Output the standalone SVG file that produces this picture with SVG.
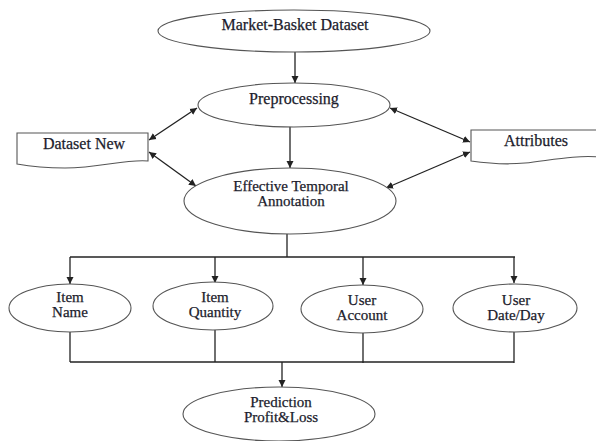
<svg xmlns="http://www.w3.org/2000/svg" width="596" height="441" viewBox="0 0 596 441">
<style>
.shape{fill:#fff;stroke:#555;stroke-width:1.1}
.line{fill:none;stroke:#222;stroke-width:1.3}
text{font-family:"Liberation Serif","Times New Roman",serif;font-size:15px;fill:#1c1c2c;stroke:#1c1c2c;stroke-width:0.25;text-anchor:middle}
.tw{font-size:16px}
</style>
<defs>
<marker id="ah" markerWidth="8" markerHeight="8" refX="7" refY="4" orient="auto-start-reverse" markerUnits="userSpaceOnUse">
<path d="M0,0.5 L7,4 L0,7.5 Z" fill="#222"/>
</marker>
</defs>
<rect width="596" height="441" fill="#fff"/>
<g id="connectors">
<line class="line" x1="295" y1="52" x2="295" y2="83" marker-end="url(#ah)"/>
<line class="line" x1="290" y1="124" x2="290" y2="168" marker-end="url(#ah)"/>
<line class="line" x1="197" y1="108" x2="149" y2="140" marker-start="url(#ah)" marker-end="url(#ah)"/>
<line class="line" x1="149" y1="152" x2="196" y2="186" marker-start="url(#ah)" marker-end="url(#ah)"/>
<line class="line" x1="390" y1="108" x2="470" y2="142" marker-start="url(#ah)" marker-end="url(#ah)"/>
<line class="line" x1="470" y1="152" x2="386" y2="188" marker-start="url(#ah)" marker-end="url(#ah)"/>
<line class="line" x1="287" y1="234" x2="287" y2="257"/>
<line class="line" x1="70" y1="257" x2="515" y2="257"/>
<line class="line" x1="70" y1="257" x2="70" y2="284" marker-end="url(#ah)"/>
<line class="line" x1="215" y1="257" x2="215" y2="283" marker-end="url(#ah)"/>
<line class="line" x1="363" y1="257" x2="363" y2="285" marker-end="url(#ah)"/>
<line class="line" x1="514" y1="257" x2="514" y2="283" marker-end="url(#ah)"/>
<line class="line" x1="70" y1="332" x2="70" y2="362"/>
<line class="line" x1="215" y1="330" x2="215" y2="362"/>
<line class="line" x1="363" y1="333" x2="363" y2="363"/>
<line class="line" x1="514" y1="332" x2="514" y2="363"/>
<line class="line" x1="70" y1="362" x2="514" y2="362"/>
<line class="line" x1="282" y1="362" x2="282" y2="387" marker-end="url(#ah)"/>
</g>
<g id="market-basket">
<ellipse class="shape" cx="294" cy="31" rx="136" ry="21"/>
<text class="tw" x="295" y="30">Market-Basket Dataset</text>
</g>
<g id="preprocessing">
<ellipse class="shape" cx="294" cy="105" rx="96" ry="22"/>
<text class="tw" x="294" y="104">Preprocessing</text>
</g>
<g id="dataset-new">
<path class="shape" d="M17,133 H148 V161 C125,159 100,168 65,168 C45,168 28,166 17,164 Z"/>
<text class="tw" x="84" y="149">Dataset New</text>
</g>
<g id="attributes">
<path class="shape" d="M471,130 H600 V157 C575,155 552,160 525,163 C505,165 485,163 471,161 Z"/>
<text class="tw" x="536" y="146">Attributes</text>
</g>
<g id="eta">
<ellipse class="shape" cx="290" cy="201" rx="106" ry="33"/>
<text x="291" y="191">Effective Temporal</text>
<text x="291" y="206">Annotation</text>
</g>
<g id="item-name">
<ellipse class="shape" cx="70" cy="308" rx="61" ry="24"/>
<text x="70" y="302">Item</text>
<text x="70" y="317">Name</text>
</g>
<g id="item-quantity">
<ellipse class="shape" cx="213" cy="306" rx="60" ry="24"/>
<text x="215" y="302">Item</text>
<text x="215" y="317">Quantity</text>
</g>
<g id="user-account">
<ellipse class="shape" cx="362" cy="309" rx="61" ry="24"/>
<text x="362" y="305">User</text>
<text x="362" y="320">Account</text>
</g>
<g id="user-date">
<ellipse class="shape" cx="515" cy="308" rx="62" ry="24"/>
<text x="516" y="305">User</text>
<text x="516" y="320">Date/Day</text>
</g>
<g id="prediction">
<ellipse class="shape" cx="279" cy="414" rx="96" ry="27"/>
<text x="281" y="407">Prediction</text>
<text x="281" y="422">Profit&amp;Loss</text>
</g>
</svg>
